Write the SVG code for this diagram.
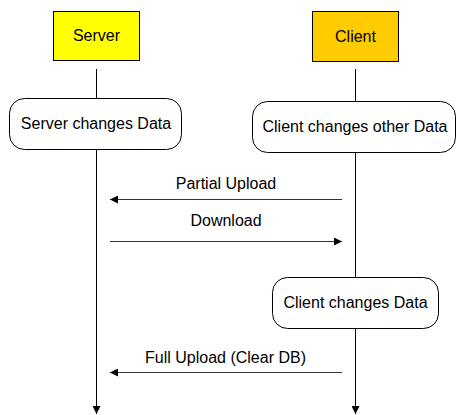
<svg xmlns="http://www.w3.org/2000/svg" width="457" height="415" viewBox="0 0 457 415">
  <defs>
    <marker id="head" viewBox="0 0 10 10" refX="10" refY="5" markerWidth="10" markerHeight="8" markerUnits="userSpaceOnUse" orient="auto">
      <path d="M0,0 L10,5 L0,10 Z" fill="#000"/>
    </marker>
    <style>
      .label { font-family: "Liberation Sans", Arial, sans-serif; font-size: 16px; fill: #000; text-anchor: middle; }
      .actor { stroke: #000; stroke-width: 1; }
      .step { fill: #fff; stroke: #000; stroke-width: 1; }
      .life { stroke: #000; stroke-width: 1; fill: none; }
      .msg { stroke: #333; stroke-width: 1; fill: none; marker-end: url(#head); }
    </style>
  </defs>
  <rect width="457" height="415" fill="#fff"/>

  <!-- lifelines -->
  <g id="lifelines">
    <line class="life" x1="96.5" y1="69" x2="96.5" y2="98"/>
    <line class="life" x1="96.5" y1="149" x2="96.5" y2="414" marker-end="url(#head)"/>
    <line class="life" x1="355.5" y1="69" x2="355.5" y2="101"/>
    <line class="life" x1="355.5" y1="152" x2="355.5" y2="277"/>
    <line class="life" x1="355.5" y1="328" x2="355.5" y2="414" marker-end="url(#head)"/>
  </g>

  <!-- participants -->
  <g id="server">
    <rect class="actor" x="53.5" y="11.5" width="86" height="49" fill="#FFFF00"/>
    <text class="label" x="96.5" y="41">Server</text>
  </g>
  <g id="client">
    <rect class="actor" x="312.5" y="11.5" width="86" height="50" fill="#FFCC00"/>
    <text class="label" x="355.5" y="41.5">Client</text>
  </g>

  <!-- activities -->
  <g id="server-changes">
    <rect class="step" x="9.5" y="98.5" width="172" height="51" rx="15" ry="15"/>
    <text class="label" x="96" y="129">Server changes Data</text>
  </g>
  <g id="client-changes-other">
    <rect class="step" x="252.5" y="101.5" width="203" height="51" rx="15" ry="15"/>
    <text class="label" x="355" y="132">Client changes other Data</text>
  </g>
  <g id="client-changes">
    <rect class="step" x="272.5" y="277.5" width="166" height="51" rx="15" ry="15"/>
    <text class="label" x="355.5" y="308">Client changes Data</text>
  </g>

  <!-- messages -->
  <g id="connectors">
    <line class="msg" x1="342" y1="199.5" x2="110" y2="199.5"/>
    <text class="label" x="226" y="189">Partial Upload</text>
    <line class="msg" x1="110" y1="241.5" x2="342" y2="241.5"/>
    <text class="label" x="226" y="226">Download</text>
    <line class="msg" x1="342" y1="372.5" x2="110" y2="372.5"/>
    <text class="label" x="225.5" y="363">Full Upload (Clear DB)</text>
  </g>
</svg>
